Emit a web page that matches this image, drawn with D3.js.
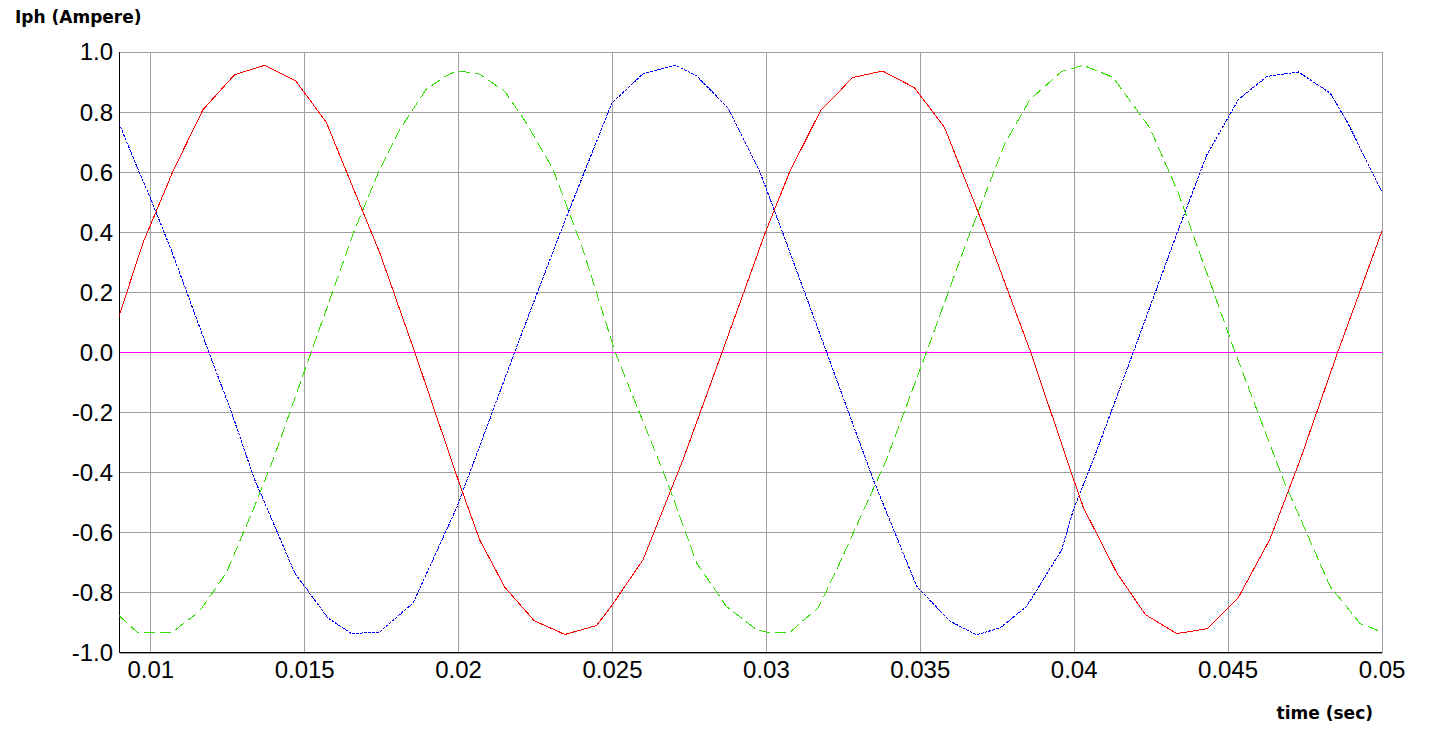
<!DOCTYPE html>
<html>
<head>
<meta charset="utf-8">
<script src="https://cdn.jsdelivr.net/npm/d3@7"></script>
<style>
  html, body { margin: 0; padding: 0; background: #fff; }
  svg { display: block; }
</style>
</head>
<body>
<svg id="chart" width="1430" height="733"></svg>
<script>
// ---- data ----
const xTicks = [0.01, 0.015, 0.02, 0.025, 0.03, 0.035, 0.04, 0.045, 0.05];
const xTickLabels = ["0.01", "0.015", "0.02", "0.025", "0.03", "0.035", "0.04", "0.045", "0.05"];
const yTicks = [-1.0, -0.8, -0.6, -0.4, -0.2, 0.0, 0.2, 0.4, 0.6, 0.8, 1.0];
const yTickLabels = ["-1.0", "-0.8", "-0.6", "-0.4", "-0.2", "0.0", "0.2", "0.4", "0.6", "0.8", "1.0"];

const redT = [0.00898, 0.00975, 0.010735, 0.01171, 0.01274, 0.01372, 0.01472, 0.01572, 0.01637, 0.01746, 0.01859, 0.0200, 0.0207, 0.02152, 0.02247, 0.02347, 0.0245, 0.0250, 0.02601, 0.02731, 0.02858, 0.03002, 0.03078, 0.03178, 0.03232, 0.0328, 0.03379, 0.03482, 0.0358, 0.03712, 0.03761, 0.0386, 0.0400, 0.04032, 0.0414, 0.04233, 0.04335, 0.04433, 0.04535, 0.04638, 0.04736, 0.04858, 0.05001];
const redV = [0.117, 0.36, 0.601, 0.806, 0.923, 0.954, 0.903, 0.764, 0.601, 0.329, 0.0, -0.425, -0.625, -0.783, -0.894, -0.94, -0.91, -0.843, -0.691, -0.358, 0.0, 0.408, 0.601, 0.804, 0.859, 0.913, 0.935, 0.88, 0.748, 0.407, 0.273, 0.0, -0.425, -0.519, -0.735, -0.874, -0.937, -0.921, -0.817, -0.622, -0.358, 0.0, 0.401];

const blueT = [0.00898, 0.00963, 0.00998, 0.01068, 0.0119, 0.01263, 0.01339, 0.01377, 0.01469, 0.01577, 0.01653, 0.01745, 0.0181, 0.01854, 0.01995, 0.02054, 0.02184, 0.02336, 0.0250, 0.02601, 0.02706, 0.02775, 0.02877, 0.0298, 0.03051, 0.03197, 0.03349, 0.0349, 0.03598, 0.03685, 0.03761, 0.03847, 0.03961, 0.03999, 0.04064, 0.04194, 0.0434, 0.04433, 0.04535, 0.04628, 0.0473, 0.04833, 0.04888, 0.05001];
const blueV = [0.762, 0.601, 0.518, 0.34, 0.0, -0.198, -0.425, -0.514, -0.735, -0.885, -0.937, -0.932, -0.874, -0.835, -0.519, -0.358, 0.0, 0.408, 0.829, 0.926, 0.954, 0.919, 0.812, 0.601, 0.407, 0.0, -0.425, -0.78, -0.896, -0.941, -0.918, -0.847, -0.658, -0.525, -0.358, 0.0, 0.407, 0.657, 0.84, 0.917, 0.932, 0.862, 0.767, 0.534];

const greenT = [0.00898, 0.0096, 0.01068, 0.0116, 0.01247, 0.01334, 0.01399, 0.01523, 0.01664, 0.01745, 0.0181, 0.01897, 0.01962, 0.01998, 0.0207, 0.02152, 0.02222, 0.02309, 0.02406, 0.0251, 0.02677, 0.02775, 0.02872, 0.0297, 0.03002, 0.0308, 0.03111, 0.0317, 0.03235, 0.03392, 0.03522, 0.03652, 0.03777, 0.03858, 0.03961, 0.04031, 0.04107, 0.04129, 0.04248, 0.0434, 0.04524, 0.04681, 0.04833, 0.04931, 0.05001];
const greenV = [-0.877, -0.935, -0.935, -0.863, -0.735, -0.525, -0.358, 0.0, 0.407, 0.607, 0.74, 0.875, 0.919, 0.936, 0.925, 0.867, 0.762, 0.607, 0.34, 0.0, -0.425, -0.702, -0.847, -0.924, -0.932, -0.932, -0.902, -0.852, -0.713, -0.358, 0.0, 0.366, 0.695, 0.84, 0.934, 0.954, 0.923, 0.912, 0.745, 0.529, 0.0, -0.425, -0.78, -0.904, -0.932];

const neutralT = [0.009, 0.05];
const neutralV = [0.0, 0.0];

const yTitle = "Iph (Ampere)";
const xTitle = "time (sec)";

// ---- layout ----
const svg = d3.select("#chart");
const L = 119.5, R = 1381.5, T = 51.5, B = 652.5;
const x = d3.scaleLinear().domain([0.009, 0.05]).range([L, R]);
const y = d3.scaleLinear().domain([-1, 1]).range([B, T]);

const gridColor = "#a0a0a0";
const tickFont = "'Liberation Sans', Arial, sans-serif";
const titleFont = "'DejaVu Sans', Verdana, sans-serif";

svg.append("defs").append("clipPath").attr("id", "plotclip")
  .append("rect").attr("x", L).attr("y", T - 1).attr("width", R - L + 1).attr("height", B - T + 2);

// grid
const grid = svg.append("g").attr("shape-rendering", "crispEdges");
grid.selectAll("line.v").data(xTicks).join("line")
  .attr("x1", d => Math.round(x(d)) + 0.5).attr("x2", d => Math.round(x(d)) + 0.5)
  .attr("y1", T).attr("y2", B)
  .attr("stroke", gridColor).attr("stroke-width", 1);
grid.selectAll("line.h").data(yTicks).join("line")
  .attr("y1", d => Math.round(y(d)) + 0.5).attr("y2", d => Math.round(y(d)) + 0.5)
  .attr("x1", L).attr("x2", R)
  .attr("stroke", gridColor).attr("stroke-width", 1);

// axes (left & bottom black)
svg.append("line").attr("x1", L).attr("x2", L).attr("y1", T).attr("y2", B + 0.5)
  .attr("stroke", "#000").attr("stroke-width", 1).attr("shape-rendering", "crispEdges");
svg.append("line").attr("x1", L).attr("x2", R + 0.5).attr("y1", B).attr("y2", B)
  .attr("stroke", "#000").attr("stroke-width", 1).attr("shape-rendering", "crispEdges");

// tick labels via d3 axes (no lines)
const yAxis = d3.axisLeft(y).tickValues(yTicks).tickSize(0).tickPadding(0)
  .tickFormat((d, i) => yTickLabels[i]);
const gy = svg.append("g").attr("transform", `translate(${L - 6.5},0)`).call(yAxis);
gy.select(".domain").remove();
gy.selectAll("text").attr("font-family", tickFont).attr("font-size", 24).attr("fill", "#000")
  .attr("dy", "0.35em");

const xAxis = d3.axisBottom(x).tickValues(xTicks).tickSize(0).tickPadding(0)
  .tickFormat((d, i) => xTickLabels[i]);
const gx = svg.append("g").attr("transform", `translate(0,${B})`).call(xAxis);
gx.select(".domain").remove();
gx.selectAll("text").attr("font-family", tickFont).attr("font-size", 24).attr("fill", "#000")
  .attr("dy", null).attr("y", 25);

// series
const plot = svg.append("g").attr("clip-path", "url(#plotclip)");
const line = d3.line().x(d => x(d[0])).y(d => y(d[1]));
function series(T_, V_, color, dash) {
  const pts = T_.map((t, i) => [t, V_[i]]);
  plot.append("path").datum(pts).attr("d", line)
    .attr("fill", "none").attr("stroke", color).attr("stroke-width", 1)
    .attr("stroke-dasharray", dash).attr("shape-rendering", "crispEdges");
}
series(neutralT, neutralV, "#ff00ff", null);
series(greenT, greenV, "#33dd00", "11,5");
series(blueT, blueV, "#0000ff", "3,1");
series(redT, redV, "#ff0000", null);

// titles
svg.append("text").attr("x", 15).attr("y", 23).text(yTitle)
  .attr("font-family", titleFont).attr("font-weight", "bold").attr("font-size", 17).attr("fill", "#000");
svg.append("text").attr("x", 1373).attr("y", 719).attr("text-anchor", "end").text(xTitle)
  .attr("font-family", titleFont).attr("font-weight", "bold").attr("font-size", 17).attr("fill", "#000");
</script>
</body>
</html>
